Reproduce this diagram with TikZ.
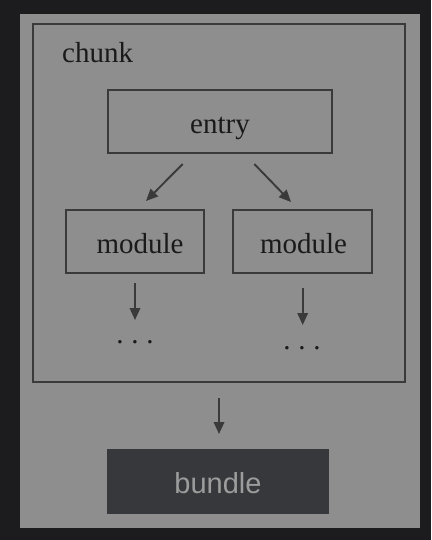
\documentclass[tikz,border=0pt]{standalone}
\usepackage{fontspec}
\setmainfont{Liberation Serif}
\newfontfamily\sansf{Liberation Sans}
\usetikzlibrary{arrows.meta}
\definecolor{bgdark}{HTML}{1C1C1E}
\definecolor{panel}{HTML}{8E8E8E}
\definecolor{linec}{HTML}{3A3A3A}
\definecolor{txtc}{HTML}{1A1A1A}
\definecolor{bundlefill}{HTML}{37383C}
\definecolor{bundletxt}{HTML}{9C9C9C}
\tikzset{
  box/.style={draw=linec, line width=2pt, rectangle, inner sep=0pt,
    text=txtc, font=\fontsize{29}{34}\selectfont, text height=24pt, text depth=0pt},
  arr/.style={draw=linec, line width=1.9pt, -{Triangle[length=12pt,width=10.5pt]}},
  lbl/.style={text=txtc, font=\fontsize{29}{34}\selectfont, inner sep=0pt},
}
\begin{document}
\begin{tikzpicture}[x=1pt,y=-1pt]
\useasboundingbox (0,0) rectangle (431,540);
\fill[bgdark] (0,0) rectangle (431,540);
\fill[panel] (20,14) rectangle (420,528);
% chunk frame
\node[box, minimum width=372pt, minimum height=358pt] (chunk) at (219,203) {};
\node[lbl, anchor=base west] (chunklbl) at (62,63) {chunk};
% boxes
\node[box, minimum width=224pt, minimum height=63pt] (entry) at (220,121.5) {entry};
\node[box, minimum width=138pt, minimum height=63pt] (modl) at (135,241.5) {\hspace{10pt}module};
\node[box, minimum width=139pt, minimum height=63pt] (modr) at (302.5,241.5) {\hspace{2pt}module};
\node[box, draw=none, fill=bundlefill, text=bundletxt, font=\sansf\fontsize{29}{34}\selectfont,
  minimum width=222pt, minimum height=65pt] (bundle) at (218,481.5) {bundle};
% dots
\node[lbl, anchor=base] (dotsl) at (135,343.5) {.\hspace{7.75pt}.\hspace{7.75pt}.};
\node[lbl, anchor=base] (dotsr) at (302,349.5) {.\hspace{7.75pt}.\hspace{7.75pt}.};
% arrow coordinates
\coordinate (a1s) at (182.7,164);
\coordinate (a1e) at (146,201);
\coordinate (a2s) at (254.3,164);
\coordinate (a2e) at (291,202);
\coordinate (a3s) at (135,283);
\coordinate (a3e) at (135,320);
\coordinate (a4s) at (302.7,288);
\coordinate (a4e) at (302.7,325);
\coordinate (a5s) at (219,398);
\coordinate (a5e) at (219,434);
\draw[arr] (a1s) -- (a1e);
\draw[arr] (a2s) -- (a2e);
\draw[arr] (a3s) -- (a3e);
\draw[arr] (a4s) -- (a4e);
\draw[arr] (a5s) -- (a5e);
\end{tikzpicture}
\end{document}
